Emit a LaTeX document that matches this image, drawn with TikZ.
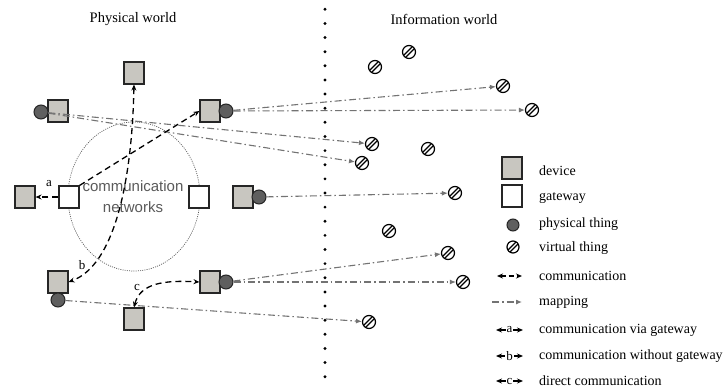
\documentclass[tikz,border=0pt]{standalone}
\usepackage{fontspec}
\setmainfont{Liberation Serif}
\setsansfont{Liberation Sans}
\usetikzlibrary{arrows.meta}
\definecolor{devfill}{RGB}{200,198,192}
\definecolor{physfill}{RGB}{95,95,95}
\definecolor{mapgray}{RGB}{115,115,115}
\definecolor{netgray}{RGB}{90,90,90}
\tikzset{
 device/.style={draw=black!85, line width=1.1pt, fill=devfill, minimum width=20pt, minimum height=22pt, inner sep=0pt},
 gateway/.style={draw=black!85, line width=1.1pt, fill=white, minimum width=20pt, minimum height=22pt, inner sep=0pt},
 phys/.style={circle, draw=black!85, line width=1pt, fill=physfill, minimum size=14pt, inner sep=0pt},
 virt/.style={circle, draw=black, line width=1.2pt, fill=white, minimum size=13pt, inner sep=0pt,
   path picture={\draw[line width=1.3pt, shift={(path picture bounding box.center)}] (-6,4) -- (4,-6) (-4,6) -- (6,-4);}},
 comm/.style={draw=black, line width=1.3pt, dash pattern=on 6pt off 4pt},
 commtip/.style={-{Stealth[length=6pt,width=5pt]}},
 commboth/.style={{Stealth[length=6pt,width=5pt]}-{Stealth[length=6pt,width=5pt]}},
 map/.style={draw=mapgray, line width=1.1pt, dash pattern=on 7pt off 3pt on 1.5pt off 3pt, -{Latex[length=6pt,width=5pt]}},
 title/.style={font=\fontsize{14.5}{17}\selectfont, inner sep=0pt},
 legtext/.style={font=\fontsize{14}{16}\selectfont, anchor=west, inner sep=0pt},
 lbl/.style={font=\fontsize{13}{15}\selectfont, inner sep=0pt},
}
\begin{document}
\begin{tikzpicture}[x=1pt,y=-1pt]
\useasboundingbox (0,0) rectangle (724,389);
% titles
\node[title] (tp) at (133,19) {Physical world};
\node[title] (ti) at (444,19) {Information world};
% divider
\foreach \i in {0,...,26} \fill (325,9.3+14.13*\i) circle (1.6pt);
% network
\draw[netgray, line width=0.7pt, dash pattern=on 1pt off 1.2pt] (134,196.5) ellipse [x radius=66, y radius=74.5];
% devices
\node[device] (dt) at (134,73) {};
\node[device] (dtl) at (58,111) {};
\node[phys] (ptl) at (41,112) {};
\node[device] (dtr) at (210,111) {};
\node[phys] (ptr) at (226,111) {};
\node[device] (da) at (25,197) {};
\node[gateway] (gwl) at (69,197) {};
\node[gateway] (gwr) at (199,197) {};
\node[device] (dm) at (243,197) {};
\node[phys] (pm) at (259,197) {};
\node[device] (db) at (58,282) {};
\node[phys] (pb) at (58,300) {};
\node[device] (dc) at (134,319) {};
\node[device] (dlr) at (210,282) {};
\node[phys] (plr) at (226,282) {};
\node[font=\sffamily\fontsize{15}{21}\selectfont, text=netgray, align=center, inner sep=0pt] (net) at (133,197) {communication\\networks};
% virtual things
\node[virt] (v1) at (375,67) {};
\node[virt] (v2) at (409,52) {};
\node[virt] (v3) at (503,86) {};
\node[virt] (v4) at (532,110) {};
\node[virt] (v5) at (372,144) {};
\node[virt] (v6) at (428,149) {};
\node[virt] (v7) at (362,163) {};
\node[virt] (v8) at (455,193) {};
\node[virt] (v9) at (389,231) {};
\node[virt] (v10) at (448,253) {};
\node[virt] (v11) at (463,282) {};
\node[virt] (v12) at (369,322) {};
% mappings
\draw[map] (ptr) -- (v3);
\draw[map] (ptr) -- (v4);
\draw[map] (ptl) -- (v5);
\draw[map] (ptl) -- (v7);
\draw[map] (pm) -- (v8);
\draw[map] (plr) -- (v10);
\draw[map] (plr) -- (v11);
\draw[map] (pb) -- (v12);
% communications
\draw[comm, commtip] (gwl.west) -- (da.east);
\draw[comm, commtip] (gwl.north east) -- (dtr.west);
\node[lbl] (la) at (49,184) {a};
\draw[comm, commboth] (dt.south) .. controls (132,180) and (115,265) .. (db.east);
\node[lbl] (lb) at (82,265) {b};
\draw[comm, commboth] (dc.north) .. controls (140,283) and (165,280) .. (dlr.west);
\node[lbl] (lc) at (137,287) {c};
% legend
\node[device] (kdev) at (512,168) {};
\node[legtext] (tdev) at (539,171) {device};
\node[gateway] (kgw) at (512,196) {};
\node[legtext] (tgw) at (539,198) {gateway};
\node[phys, minimum size=12pt] (kph) at (513,225) {};
\node[legtext] (tph) at (539,224) {physical thing};
\node[virt, minimum size=12pt] (kvi) at (513,247) {};
\node[legtext] (tvi) at (539,248) {virtual thing};
\coordinate (c1a) at (497,276); \coordinate (c1b) at (522,276);
\draw[comm, line width=1.1pt, dash pattern=on 5pt off 3pt, commboth] (c1a) -- (c1b);
\node[legtext] (tc1) at (539,276) {communication};
\coordinate (c2a) at (492,302); \coordinate (c2b) at (522,302);
\draw[map] (c2a) -- (c2b);
\node[legtext] (tc2) at (539,302) {mapping};
\coordinate (c3a) at (496,330); \coordinate (c3b) at (523,330);
\draw[line width=1.1pt, commboth] (c3a) -- (c3b) node[midway, fill=white, lbl, inner xsep=1pt] {a};
\node[legtext] (tc3) at (539,330) {communication via gateway};
\coordinate (c4a) at (496,356); \coordinate (c4b) at (523,356);
\draw[line width=1.1pt, commboth] (c4a) -- (c4b) node[midway, fill=white, lbl, inner xsep=1pt] {b};
\node[legtext] (tc4) at (539,356) {communication without gateway};
\coordinate (c5a) at (496,381); \coordinate (c5b) at (523,381);
\draw[line width=1.1pt, commboth] (c5a) -- (c5b) node[midway, fill=white, lbl, inner xsep=1pt] {c};
\node[legtext] (tc5) at (539,381) {direct communication};
\end{tikzpicture}
\end{document}
